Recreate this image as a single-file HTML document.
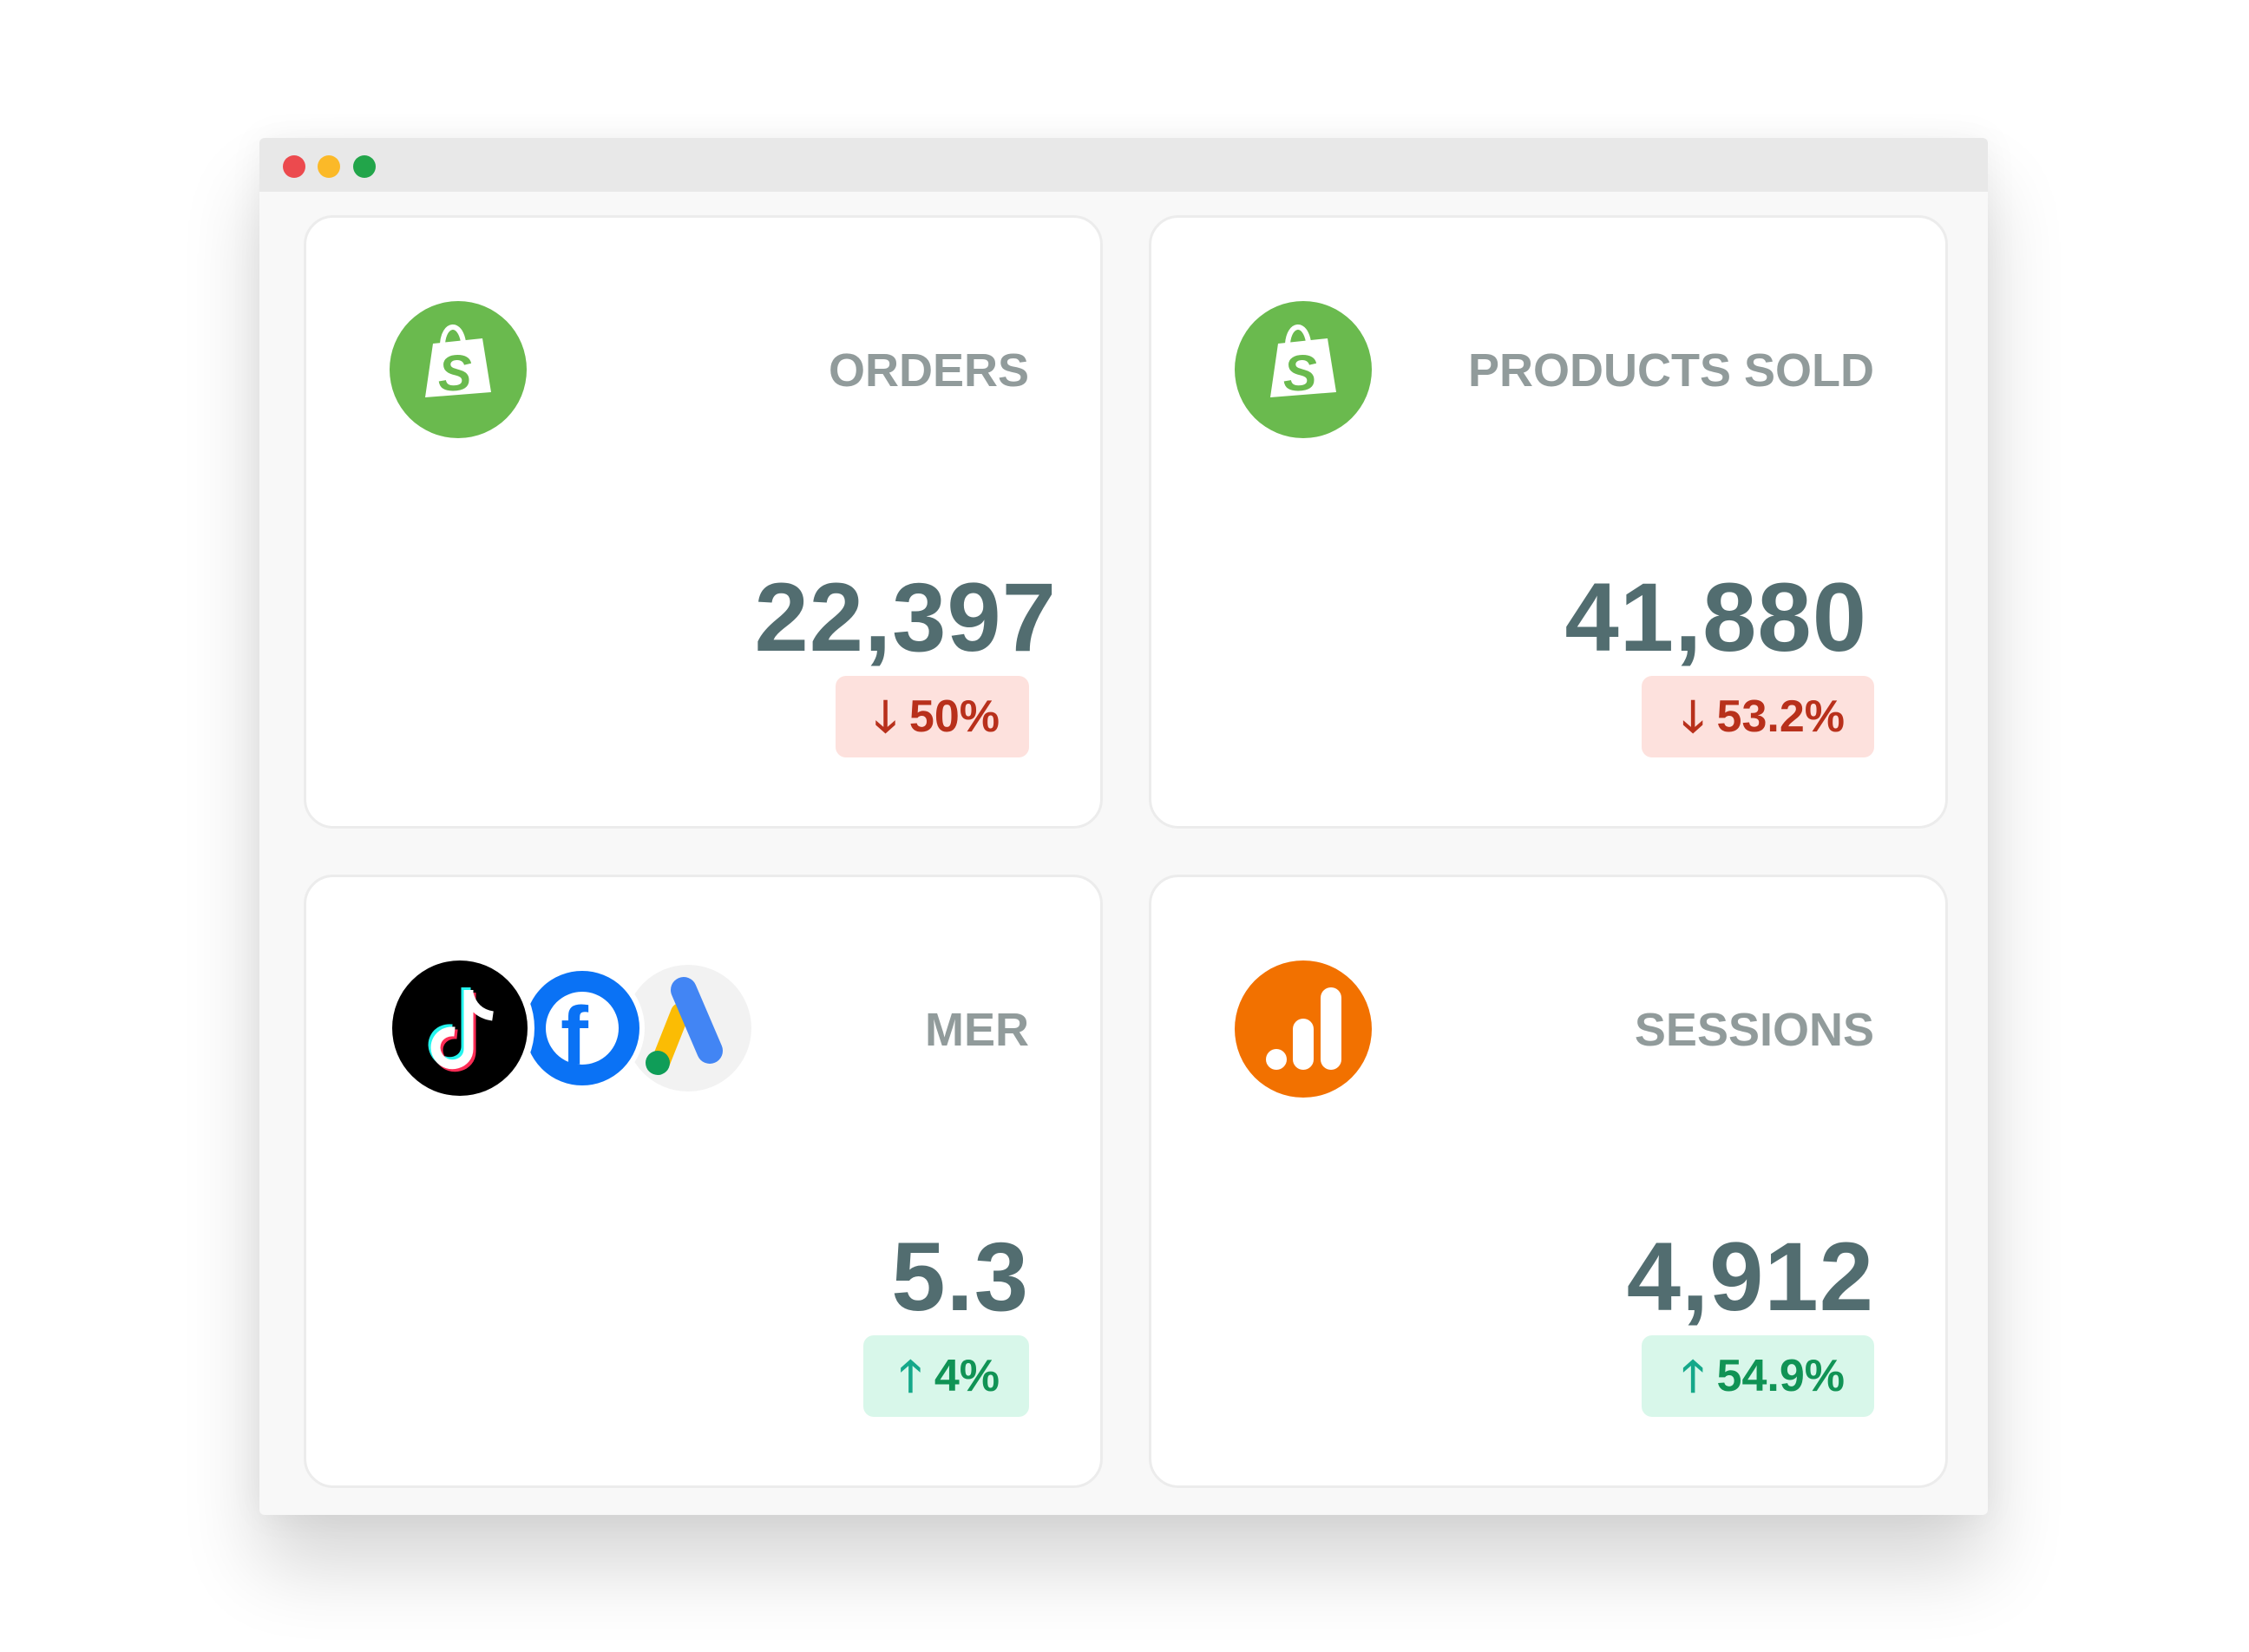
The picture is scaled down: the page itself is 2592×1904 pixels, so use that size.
<!DOCTYPE html>
<html><head><meta charset="utf-8"><style>
body{margin:0;width:2592px;height:1904px;background:#fff;position:relative;overflow:hidden;font-family:"Liberation Sans",sans-serif}
.win{position:absolute;left:299px;top:159px;width:1992px;height:1587px;background:#f8f8f8;box-shadow:0 60px 90px rgba(0,0,0,0.16),0 0 40px rgba(0,0,0,0.05);border-radius:6px;overflow:hidden}
.bar{position:absolute;left:0;top:0;width:100%;height:62px;background:#e8e8e8}
.dot{position:absolute;top:20px;width:26px;height:26px;border-radius:50%}
.card{position:absolute;width:921px;height:707px;background:#fff;border:3px solid #ececec;border-radius:34px;box-sizing:border-box}
.lbl{position:absolute;right:82px;font-size:54px;font-weight:bold;color:#919b9b;top:145px}
.num{position:absolute;font-size:112px;font-weight:bold;color:#526d70;letter-spacing:1px;top:396px}
.badge{position:absolute;right:82px;height:94px;border-radius:12px;font-size:52px;font-weight:bold;line-height:94px;text-align:right;padding:0 34px 0 0;box-sizing:border-box;top:528px}
.red{background:#fde1dd;color:#b8301b}
.grn{background:#d8f7ea;color:#109355}
svg{position:absolute}
</style></head><body>
<div class="win">
<div class="bar"></div>
<div class="dot" style="left:27px;background:#ec4a4e"></div>
<div class="dot" style="left:67px;background:#fbb928"></div>
<div class="dot" style="left:108px;background:#22a54a"></div>

<div class="card" style="left:51px;top:89px">
<svg style="left:95px;top:95px" width="160" height="160" viewBox="0 0 160 160"><circle cx="80" cy="80" r="79" fill="#6aba4e"/><path d="M42 112 L51 50 L108 44 L118 106 Z" fill="#fff"/><path d="M62 50 C64 26 82 24 86 48" stroke="#fff" stroke-width="6" fill="none"/><text x="57" y="104" font-size="58" font-weight="bold" fill="#6aba4e" font-style="italic" font-family="Liberation Sans">S</text></svg>
<div class="lbl">ORDERS</div>
<div class="num" style="right:50px">22,397</div>
<div class="badge red" style="width:223px"><span style="font-size:50px">🡓</span> 50%</div>
</div>

<div class="card" style="left:1025px;top:89px">
<svg style="left:95px;top:95px" width="160" height="160" viewBox="0 0 160 160"><circle cx="80" cy="80" r="79" fill="#6aba4e"/><path d="M42 112 L51 50 L108 44 L118 106 Z" fill="#fff"/><path d="M62 50 C64 26 82 24 86 48" stroke="#fff" stroke-width="6" fill="none"/><text x="57" y="104" font-size="58" font-weight="bold" fill="#6aba4e" font-style="italic" font-family="Liberation Sans">S</text></svg>
<div class="lbl">PRODUCTS SOLD</div>
<div class="num" style="right:90px">41,880</div>
<div class="badge red" style="width:268px"><span style="font-size:50px">🡓</span> 53.2%</div>
</div>

<div class="card" style="left:51px;top:849px">
<svg style="left:93px;top:90px" width="440" height="170" viewBox="0 0 440 170"><circle cx="347" cy="84" r="73" fill="#f2f2f2"/><path d="M315 124 L338 66" stroke="#fbbc04" stroke-width="22" stroke-linecap="round"/><circle cx="312" cy="124" r="14" fill="#0f9d58"/><path d="M342 40 L372 110" stroke="#4285f4" stroke-width="30" stroke-linecap="round"/><circle cx="225" cy="84" r="72" fill="#fff"/><circle cx="225" cy="84" r="54" fill="none" stroke="#0a72f5" stroke-width="24"/><text x="200" y="126" font-size="96" font-weight="bold" fill="#0a72f5" font-family="Liberation Sans">f</text><circle cx="84" cy="84" r="86" fill="#fff"/><circle cx="84" cy="84" r="78" fill="#000"/><path d="M94 40 L94 108 C94 126 70 132 60 118 C50 104 60 86 78 88" stroke="#25f4ee" stroke-width="11" fill="none" transform="translate(-3,-3)"/><path d="M94 40 L94 108 C94 126 70 132 60 118 C50 104 60 86 78 88" stroke="#fe2c55" stroke-width="11" fill="none" transform="translate(3,3)"/><path d="M94 40 L94 108 C94 126 70 132 60 118 C50 104 60 86 78 88" stroke="#fff" stroke-width="11" fill="none"/><path d="M94 44 C98 60 108 68 122 70" stroke="#fff" stroke-width="11" fill="none"/></svg>
<div class="lbl">MER</div>
<div class="num" style="right:82px">5.3</div>
<div class="badge grn" style="width:191px"><span style="color:#15a88a;font-size:50px">🡑</span> 4%</div>
</div>

<div class="card" style="left:1025px;top:849px">
<svg style="left:95px;top:95px" width="160" height="160" viewBox="0 0 160 160"><circle cx="80" cy="80" r="79" fill="#f27100"/><circle cx="49" cy="115" r="12" fill="#fff"/><rect x="68" y="68" width="24" height="59" rx="12" fill="#fff"/><rect x="100" y="32" width="24" height="95" rx="12" fill="#fff"/></svg>
<div class="lbl">SESSIONS</div>
<div class="num" style="right:82px">4,912</div>
<div class="badge grn" style="width:268px"><span style="color:#15a88a;font-size:50px">🡑</span> 54.9%</div>
</div>
</div>
</body></html>
